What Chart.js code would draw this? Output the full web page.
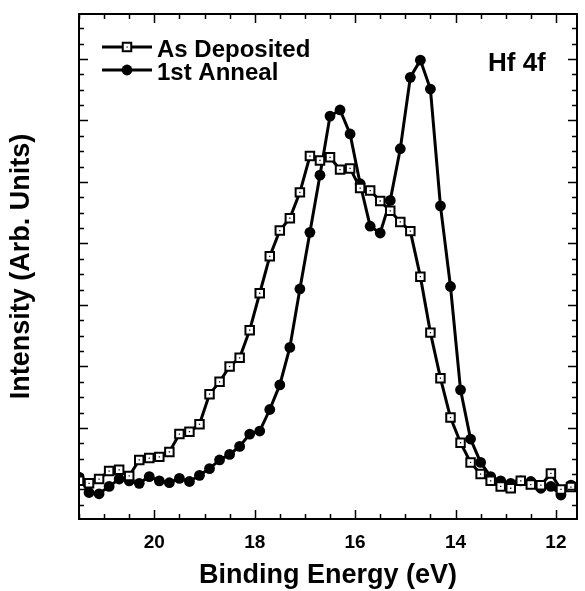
<!DOCTYPE html>
<html>
<head>
<meta charset="utf-8">
<script src="https://cdn.jsdelivr.net/npm/chart.js@4"></script>
<style>
  html, body { margin: 0; padding: 0; background: #fff; }
  #wrap { width: 585px; height: 591px; }
</style>
</head>
<body>
<div id="wrap"><canvas id="myChart" width="585" height="591"></canvas></div>
<script>
// binding energy (eV), 0.2 eV steps from 21.5 down to 11.7
const energy = [21.5, 21.3, 21.1, 20.9, 20.7, 20.5, 20.3, 20.1, 19.9, 19.7,
  19.5, 19.3, 19.1, 18.9, 18.7, 18.5, 18.3, 18.1, 17.9, 17.7,
  17.5, 17.3, 17.1, 16.9, 16.7, 16.5, 16.3, 16.1, 15.9, 15.7,
  15.5, 15.3, 15.1, 14.9, 14.7, 14.5, 14.3, 14.1, 13.9, 13.7,
  13.5, 13.3, 13.1, 12.9, 12.7, 12.5, 12.3, 12.1, 11.9, 11.7];

// intensity, arbitrary units
const asDeposited = [0.14, 0.10, 0.17, 0.30, 0.32, 0.22, 0.48, 0.51, 0.53, 0.61,
  0.90, 0.94, 1.06, 1.55, 1.75, 2.00, 2.14, 2.59, 3.19, 3.79,
  4.21, 4.41, 4.83, 5.42, 5.35, 5.40, 5.20, 5.22, 4.90, 4.86,
  4.69, 4.53, 4.35, 4.20, 3.46, 2.55, 1.81, 1.17, 0.76, 0.44,
  0.25, 0.14, 0.05, 0.02, 0.14, 0.08, 0.07, 0.26, 0.00, 0.04];

const firstAnneal = [0.20, -0.05, -0.07, 0.05, 0.17, 0.14, 0.10, 0.21, 0.14, 0.11,
  0.18, 0.13, 0.23, 0.34, 0.48, 0.57, 0.70, 0.90, 0.95, 1.30,
  1.70, 2.31, 3.26, 4.18, 5.11, 6.07, 6.17, 5.78, 4.97, 4.28,
  4.17, 4.70, 5.54, 6.70, 6.98, 6.51, 4.61, 3.30, 1.62, 0.82,
  0.44, 0.21, 0.14, 0.10, 0.14, 0.13, 0.02, 0.05, -0.09, 0.07];

const seriesNames = ['As Deposited', '1st Anneal'];
const xTickLabels = [20, 18, 16, 14, 12];
const panelLabel = 'Hf 4f';

const FONT = '"Liberation Sans", Arial, Helvetica, sans-serif';

function pts(ys) {
  return ys.map((y, i) => ({ x: energy[i], y: y }));
}

// inward ticks on all four sides + frame, legend and panel label
const decorations = {
  id: 'decorations',
  afterDatasetsDraw(chart) {
    const ctx = chart.ctx;
    const a = chart.chartArea;
    const xs = chart.scales.x, ys = chart.scales.y;
    ctx.save();
    ctx.strokeStyle = '#000';
    ctx.lineWidth = 1.5;
    ctx.beginPath();
    for (let v = 11.5; v <= 21.5001; v += 0.5) {
      const px = Math.round(xs.getPixelForValue(v)) + 0.5;
      if (px < a.left || px > a.right) continue;
      const len = Math.abs(v % 2) < 0.01 ? 9 : 5;
      ctx.moveTo(px, a.bottom); ctx.lineTo(px, a.bottom - len);
      ctx.moveTo(px, a.top); ctx.lineTo(px, a.top + len);
    }
    for (let v = -0.25; v <= 7.8; v += 0.25) {
      const py = Math.round(ys.getPixelForValue(v)) + 0.5;
      if (py < a.top || py > a.bottom) continue;
      const len = Math.abs(v - Math.round(v)) < 0.01 ? 9 : 5;
      ctx.moveTo(a.left, py); ctx.lineTo(a.left + len, py);
      ctx.moveTo(a.right, py); ctx.lineTo(a.right - len, py);
    }
    ctx.stroke();
    ctx.lineWidth = 2;
    ctx.strokeRect(a.left, a.top, a.right - a.left, a.bottom - a.top);

    // legend
    const rows = [
      { y: 47, name: seriesNames[0], ds: chart.data.datasets[0] },
      { y: 70, name: seriesNames[1], ds: chart.data.datasets[1] }
    ];
    rows.forEach(r => {
      ctx.lineWidth = 3;
      ctx.strokeStyle = '#000';
      ctx.beginPath();
      ctx.moveTo(102, r.y); ctx.lineTo(152, r.y);
      ctx.stroke();
      ctx.fillStyle = r.ds.pointBackgroundColor;
      ctx.lineWidth = r.ds.pointBorderWidth;
      const s = r.ds.pointRadius * Math.SQRT1_2;
      if (r.ds.pointStyle === 'rect') {
        ctx.fillRect(127 - s, r.y - s, 2 * s, 2 * s);
        ctx.strokeRect(127 - s, r.y - s, 2 * s, 2 * s);
        ctx.fillStyle = '#000';
        ctx.fillRect(126.5, r.y - 0.5, 1.2, 1.2);
      } else {
        ctx.beginPath();
        ctx.arc(127, r.y, r.ds.pointRadius, 0, Math.PI * 2);
        ctx.fill();
      }
      ctx.fillStyle = '#000';
      ctx.font = 'bold 24px ' + FONT;
      ctx.textBaseline = 'alphabetic';
      ctx.textAlign = 'left';
      ctx.fillText(r.name, 157, r.y + 10);
    });

    ctx.font = 'bold 26px ' + FONT;
    ctx.fillText(panelLabel, 488, 71);
    ctx.restore();
  }
};

const ctx = document.getElementById('myChart').getContext('2d');
new Chart(ctx, {
  type: 'line',
  data: {
    datasets: [
      {
        label: seriesNames[0],
        data: pts(asDeposited),
        borderColor: '#000',
        borderWidth: 3,
        pointStyle: 'rect',
        pointRadius: 6,
        pointBorderWidth: 2,
        pointBorderColor: '#000',
        pointBackgroundColor: '#fff',
        fill: false,
        tension: 0,
        order: 1
      },
      {
        label: seriesNames[1],
        data: pts(firstAnneal),
        borderColor: '#000',
        borderWidth: 3,
        pointStyle: 'circle',
        pointRadius: 5.4,
        pointBorderWidth: 0,
        pointBorderColor: '#000',
        pointBackgroundColor: '#000',
        fill: false,
        tension: 0,
        order: 2
      },
      {
        // tiny centre dots of the open squares
        label: 'dots',
        data: pts(asDeposited),
        showLine: false,
        pointStyle: 'rect',
        pointRadius: 0.9,
        pointBorderWidth: 0,
        pointBackgroundColor: '#000',
        order: 0
      }
    ]
  },
  options: {
    responsive: false,
    animation: false,
    devicePixelRatio: 1,
    layout: { padding: { top: 14, right: 2, left: 0, bottom: 0 } },
    plugins: {
      legend: { display: false },
      tooltip: { enabled: false }
    },
    scales: {
      x: {
        type: 'linear',
        reverse: true,
        min: 11.58,
        max: 21.5,
        afterBuildTicks: s => { s.ticks = xTickLabels.map(v => ({ value: v })); },
        afterFit: s => { s.height = 72; },
        grid: { display: false, drawTicks: false },
        border: { display: false },
        ticks: {
          color: '#000',
          padding: 12,
          maxRotation: 0,
          font: { family: FONT, size: 19, weight: 'bold' }
        },
        title: {
          display: true,
          text: 'Binding Energy (eV)',
          color: '#000',
          padding: { top: 0, bottom: 0 },
          font: { family: FONT, size: 27, weight: 'bold', lineHeight: 1.15 }
        }
      },
      y: {
        type: 'linear',
        min: -0.48,
        max: 7.73,
        afterFit: s => { s.width = 79; },
        grid: { display: false, drawTicks: false },
        border: { display: false },
        ticks: { display: false },
        title: {
          display: true,
          text: 'Intensity (Arb. Units)',
          color: '#000',
          padding: { top: 6, bottom: 0 },
          font: { family: FONT, size: 27, weight: 'bold', lineHeight: 1.15 }
        }
      }
    }
  },
  plugins: [decorations]
});
</script>
</body>
</html>
